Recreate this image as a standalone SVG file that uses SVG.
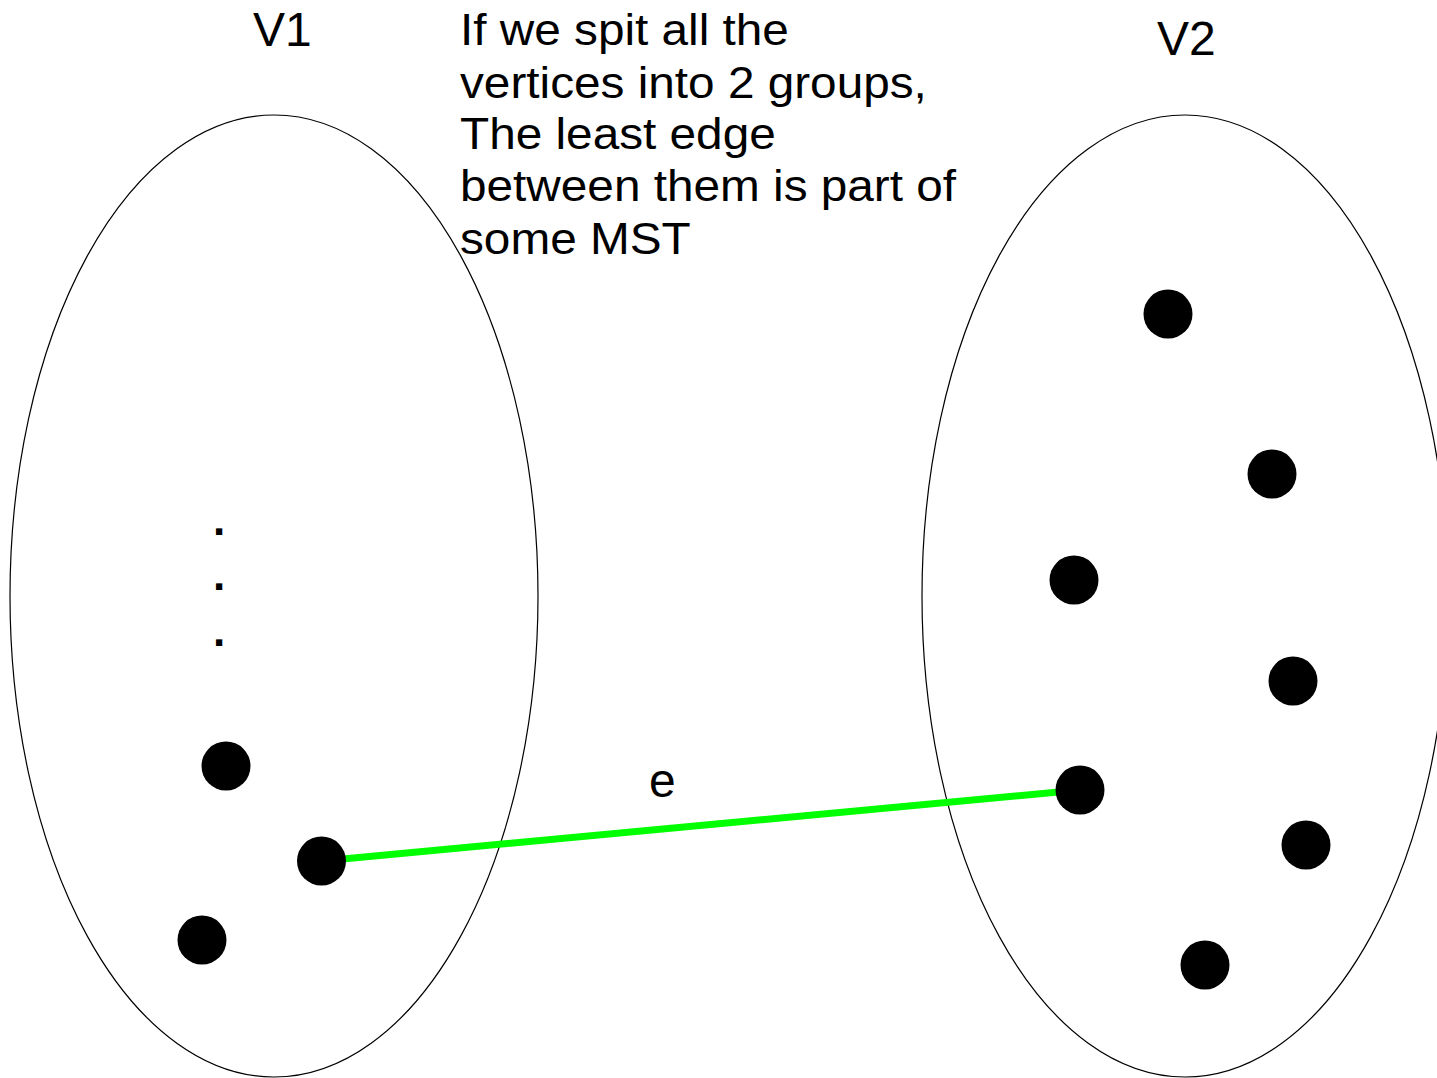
<svg xmlns="http://www.w3.org/2000/svg" width="1437" height="1078" viewBox="0 0 1437 1078">
<style>
.set{fill:none;stroke:#000;stroke-width:1.2}
.v{fill:#000}
.t{font-family:"Liberation Sans",Arial,sans-serif;fill:#000}
.edge{stroke:#00ff00;stroke-width:7;fill:none}
.dot{font-size:44px;font-weight:bold}
</style>
<rect width="1437" height="1078" fill="#fff"/>
<g id="set-V1"><ellipse class="set" cx="274" cy="596" rx="264" ry="481"/></g>
<g id="set-V2"><ellipse class="set" cx="1185" cy="596" rx="263" ry="481"/></g>
<g id="connectors"><line class="edge" x1="321.5" y1="861" x2="1080" y2="790"/></g>
<g id="label-V1"><text class="t" x="253" y="46" font-size="48">V1</text></g>
<g id="label-V2"><text class="t" x="1157" y="55" font-size="48">V2</text></g>
<g id="note" transform="translate(460,0) scale(1.085,1)">
<text class="t" font-size="44"><tspan x="0" y="45">If we spit all the</tspan><tspan x="0" y="98">vertices into 2 groups,</tspan><tspan x="0" y="149">The least edge</tspan><tspan x="0" y="201">between them is part of</tspan><tspan x="0" y="254">some MST</tspan></text>
</g>
<g id="label-e"><text class="t" x="649" y="797" font-size="48">e</text></g>
<g id="ellipsis"><text class="t dot" x="213" y="535">.</text><text class="t dot" x="213" y="590">.</text><text class="t dot" x="213" y="646">.</text></g>
<g id="v1-a"><circle class="v" cx="226" cy="766" r="24.5"/></g>
<g id="v1-b"><circle class="v" cx="321.5" cy="861" r="24.5"/></g>
<g id="v1-c"><circle class="v" cx="202" cy="940" r="24.5"/></g>
<g id="v2-a"><circle class="v" cx="1168" cy="314" r="24.5"/></g>
<g id="v2-b"><circle class="v" cx="1272" cy="474" r="24.5"/></g>
<g id="v2-c"><circle class="v" cx="1074" cy="580" r="24.5"/></g>
<g id="v2-d"><circle class="v" cx="1293" cy="681" r="24.5"/></g>
<g id="v2-e"><circle class="v" cx="1080" cy="790" r="24.5"/></g>
<g id="v2-f"><circle class="v" cx="1306" cy="845" r="24.5"/></g>
<g id="v2-g"><circle class="v" cx="1205" cy="965" r="24.5"/></g>
</svg>
